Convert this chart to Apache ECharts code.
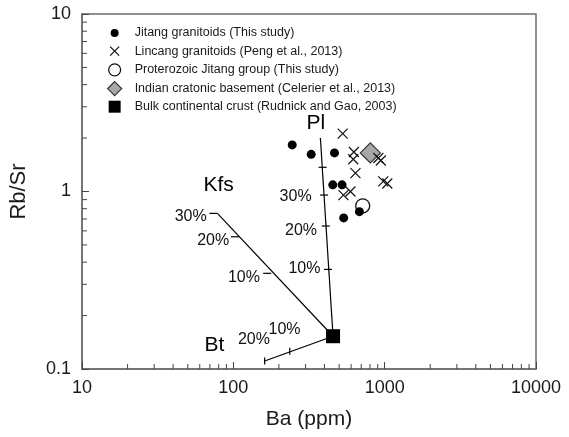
<!DOCTYPE html>
<html>
<head>
<meta charset="utf-8">
<script src="https://cdn.jsdelivr.net/npm/echarts@6/dist/echarts.min.js"></script>
<style>
html,body{margin:0;padding:0;background:#fff;}
#chart{width:569px;height:437px;}
</style>
</head>
<body>
<div id="chart"></div>
<script>
// ---- data (Ba ppm, Rb/Sr) ----
const jitangGranitoids = [[245,1.83],[327,1.62],[466,1.65],[454,1.09],[523,1.09],[681,0.77],[536,0.71]];
const lincangGranitoids = [[528,2.12],[626,1.67],[620,1.52],[641,1.27],[908,1.545],[943,1.495],[979,1.14],[1041,1.11],[534,0.955],[594,1.0]];
const proterozoicJitang = [[716,0.83]];
const indianBasement = [[804,1.65]];
const bulkCrust = [[456,0.153]];

// mineral vectors from bulk crust
const plVector = [[456,0.153],[376,2.0]];
const kfsVector = [[456,0.153],[78.5,0.753]];
const btVector = [[456,0.153],[161,0.111]];

// vector tick marks: [Ba, Rb/Sr, kind] kind 0 = horizontal centred, 1 = horizontal to left, 2 = vertical
const plTicks = [[389,1.369,0],[398,0.955,0],[408,0.639,0],[422,0.364,0]];
const kfsTicks = [[78.5,0.753,1],[109,0.556,1],[178,0.346,1]];
const btTicks = [[161,0.111,2],[236,0.1258,2]];

// annotation labels: [Ba, Rb/Sr, text]
const mineralLabels = [[351,2.42,'Pl'],[80,1.088,'Kfs'],[75,0.1365,'Bt']];
const percentLabels = [
  [258,0.931,'30%'],[280,0.599,'20%'],[295,0.369,'10%'],
  [52.3,0.721,'30%'],[73.6,0.526,'20%'],[117.5,0.327,'10%'],
  [136.8,0.1457,'20%'],[218,0.1674,'10%']
];

// axis minor ticks
const xMinorTicks = [20,30,40,50,60,70,80,90,200,300,400,500,600,700,800,900,2000,3000,4000,5000,6000,7000,8000,9000];
const yMinorTicks = [0.2,0.3,0.4,0.5,0.6,0.7,0.8,0.9,2,3,4,5,6,7,8,9];

const seriesNames = [
  'Jitang granitoids (This study)',
  'Lincang granitoids (Peng et al., 2013)',
  'Proterozoic Jitang group (This study)',
  'Indian cratonic basement (Celerier et al., 2013)',
  'Bulk continental crust (Rudnick and Gao, 2003)'
];

const FONT = "'Liberation Sans', Arial, Helvetica, sans-serif";
const crossPath = 'path://M0,0L10,10M10,0L0,10';

const chart = echarts.init(document.getElementById('chart'), null, {renderer:'canvas'});

function fmt(v){ return String(+Number(v).toPrecision(6)); }

const option = {
  animation: false,
  textStyle: {fontFamily: FONT},
  grid: {left: 81, right: 33, top: 14, bottom: 68, show: true, borderColor: '#6e6e6e', borderWidth: 1.5, backgroundColor: 'transparent'},
  legend: {
    orient: 'vertical', left: 102, top: 21, itemWidth: 30, itemHeight: 14, itemGap: 3.5,
    symbolKeepAspect: true, selectedMode: false,
    textStyle: {fontFamily: FONT, fontSize: 12.5, color: '#1a1a1a'},
    data: [
      {name: seriesNames[0], icon: 'path://M-7,-7M7,7M-4,0A4,4 0 1,1 4,0A4,4 0 1,1 -4,0Z', itemStyle:{color:'#000', opacity:1}},
      {name: seriesNames[1], icon: 'path://M-7,-7M7,7M-4.5,-4.5L4.5,4.5M4.5,-4.5L-4.5,4.5', itemStyle:{borderWidth:1.2, borderColor:'#111', opacity:1}},
      {name: seriesNames[2], icon: 'path://M-7,-7M7,7M-6,0A6,6 0 1,1 6,0A6,6 0 1,1 -6,0Z', itemStyle:{borderWidth:1.3, borderColor:'#111', color:'#fff', opacity:1}},
      {name: seriesNames[3], icon: 'path://M-7,-7M7,7M0,-7L7,0L0,7L-7,0Z', itemStyle:{borderWidth:1.2, borderColor:'#333', color:'#a8a8a8', opacity:1}},
      {name: seriesNames[4], icon: 'path://M-7,-7M7,7M-6,-6L6,-6L6,6L-6,6Z', itemStyle:{color:'#000', opacity:1}}
    ]
  },
  xAxis: {
    type: 'log', logBase: 10, min: 10, max: 10000,
    name: 'Ba (ppm)', nameLocation: 'middle', nameGap: 40,
    nameTextStyle: {fontFamily: FONT, fontSize: 21, color: '#1a1a1a'},
    axisLine: {lineStyle: {color: '#6e6e6e', width: 1.5}},
    axisTick: {inside: true, length: 7, lineStyle: {color: '#444', width: 1}},
    axisLabel: {fontFamily: FONT, fontSize: 18, color: '#1a1a1a', margin: 10, formatter: fmt},
    splitLine: {show: false}, minorTick: {show: false}
  },
  yAxis: {
    type: 'log', logBase: 10, min: 0.1, max: 10,
    name: 'Rb/Sr', nameLocation: 'middle', nameGap: 52, nameRotate: 90,
    nameTextStyle: {fontFamily: FONT, fontSize: 22, color: '#1a1a1a'},
    axisLine: {lineStyle: {color: '#6e6e6e', width: 1.5}},
    axisTick: {inside: true, length: 7, lineStyle: {color: '#444', width: 1}},
    axisLabel: {fontFamily: FONT, fontSize: 18, color: '#1a1a1a', margin: 11, formatter: fmt},
    splitLine: {show: false}, minorTick: {show: false}
  },
  series: [
    // axis minor ticks
    {type: 'custom', silent: true, clip: false, z: 1,
     data: xMinorTicks.map(v => [v, 0.1]),
     renderItem: (params, api) => {
       const p = api.coord([api.value(0), 0.1]);
       return {type: 'line', shape: {x1: p[0], y1: p[1], x2: p[0], y2: p[1] - 5}, style: {stroke: '#444', lineWidth: 1}};
     }},
    {type: 'custom', silent: true, clip: false, z: 1,
     data: yMinorTicks.map(v => [10, v]),
     renderItem: (params, api) => {
       const p = api.coord([10, api.value(1)]);
       return {type: 'line', shape: {x1: p[0], y1: p[1], x2: p[0] + 5, y2: p[1]}, style: {stroke: '#444', lineWidth: 1}};
     }},
    // vectors
    {type: 'line', data: plVector, showSymbol: false, symbol: 'none', lineStyle: {color: '#000', width: 1.2}, z: 2, silent: true},
    {type: 'line', data: kfsVector, showSymbol: false, symbol: 'none', lineStyle: {color: '#000', width: 1.2}, z: 2, silent: true},
    {type: 'line', data: btVector, showSymbol: false, symbol: 'none', lineStyle: {color: '#000', width: 1.2}, z: 2, silent: true},
    {type: 'custom', silent: true, clip: false, z: 2,
     data: plTicks.concat(kfsTicks, btTicks),
     renderItem: (params, api) => {
       const p = api.coord([api.value(0), api.value(1)]);
       const k = api.value(2);
       let s;
       if (k === 0) s = {x1: p[0] - 4, y1: p[1], x2: p[0] + 4, y2: p[1]};
       else if (k === 1) s = {x1: p[0] - 8, y1: p[1], x2: p[0], y2: p[1]};
       else s = {x1: p[0], y1: p[1] - 3.5, x2: p[0], y2: p[1] + 3.5};
       return {type: 'line', shape: s, style: {stroke: '#000', lineWidth: 1.2}};
     }},
    // labels
    {type: 'scatter', silent: true, z: 3, symbolSize: 1, itemStyle: {color: 'rgba(0,0,0,0)', opacity: 1},
     data: mineralLabels.map(d => ({value: [d[0], d[1]], name: d[2]})),
     label: {show: true, position: 'inside', formatter: '{b}', fontFamily: FONT, fontSize: 21, color: '#000'}},
    {type: 'scatter', silent: true, z: 3, symbolSize: 1, itemStyle: {color: 'rgba(0,0,0,0)', opacity: 1},
     data: percentLabels.map(d => ({value: [d[0], d[1]], name: d[2]})),
     label: {show: true, position: 'inside', formatter: '{b}', fontFamily: FONT, fontSize: 16, color: '#111'}},
    // data
    {name: seriesNames[3], type: 'scatter', data: indianBasement, symbol: 'diamond', symbolSize: [20, 20], z: 4,
     itemStyle: {color: '#a8a8a8', borderColor: '#333', borderWidth: 1.2, opacity: 1}},
    {name: seriesNames[2], type: 'scatter', data: proterozoicJitang, symbol: 'circle', symbolSize: 14, z: 4,
     itemStyle: {color: '#fff', borderColor: '#111', borderWidth: 1.3, opacity: 1}},
    {name: seriesNames[0], type: 'scatter', data: jitangGranitoids, symbol: 'circle', symbolSize: 9, z: 5,
     itemStyle: {color: '#000', opacity: 1}},
    {name: seriesNames[1], type: 'scatter', data: lincangGranitoids, symbol: crossPath, symbolSize: 10, z: 6,
     itemStyle: {color: '#111', borderColor: '#111', borderWidth: 1.2, opacity: 1}},
    {name: seriesNames[4], type: 'scatter', data: bulkCrust, symbol: 'rect', symbolSize: 14, z: 7,
     itemStyle: {color: '#000', opacity: 1}}
  ]
};
chart.setOption(option);
</script>
</body>
</html>
